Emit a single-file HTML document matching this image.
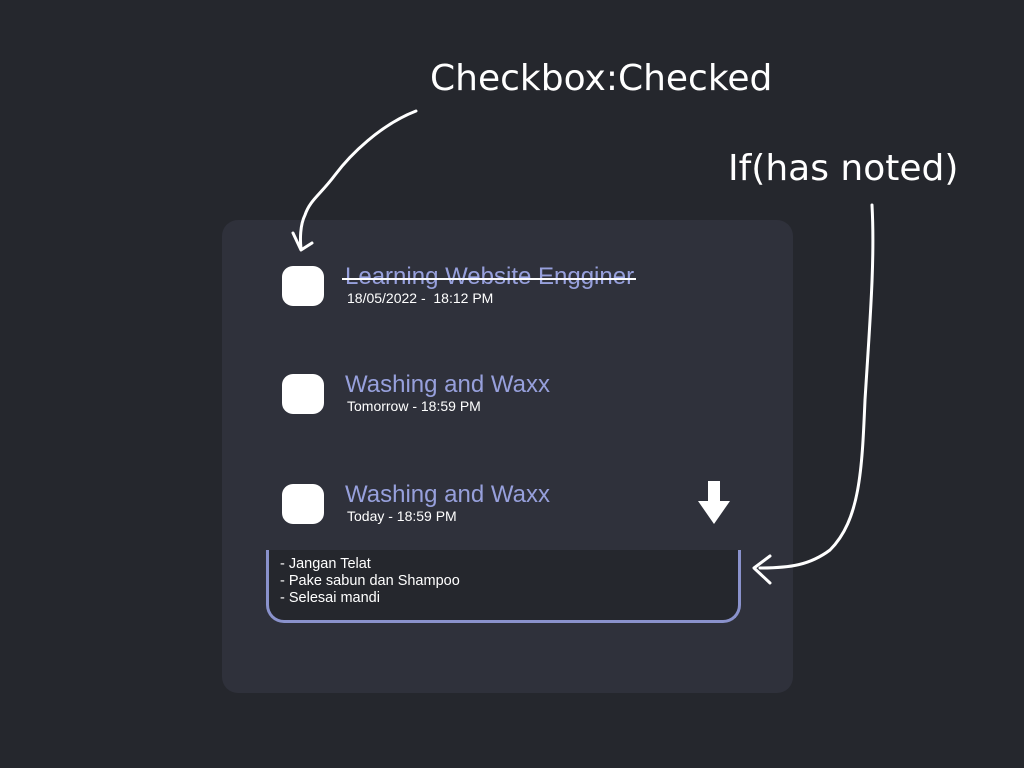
<!DOCTYPE html>
<html><head><meta charset="utf-8"><style>
body{margin:0;width:1024px;height:768px;background:#25272d;position:relative;overflow:hidden;font-family:"Liberation Sans",sans-serif;}
.card{position:absolute;left:222px;top:220px;width:571px;height:473px;background:#2f313b;border-radius:16px;}
.cb{position:absolute;width:42px;height:40px;background:#fff;border-radius:11px;}
.t{position:absolute;color:#97a0dc;font-size:24px;white-space:nowrap;}
.s{position:absolute;color:#fff;font-size:14px;white-space:nowrap;}
.note{position:absolute;left:266px;top:550px;width:458px;height:64px;background:#25272d;border:3px solid #8a92cc;border-top:none;border-radius:0 0 18px 18px;color:#fff;font-size:14.5px;line-height:17px;padding:6px 0 0 11px;}
.hand{position:absolute;color:#fff;font-family:"Comic Sans MS","DejaVu Sans",cursive;white-space:nowrap;}
</style></head><body>
<div class="card"></div>
<div class="cb" style="left:282px;top:266px"></div>
<div class="t" style="left:345px;top:263px">Learning Website Engginer</div>
<div style="position:absolute;left:342px;top:278px;width:294px;height:2px;background:#fff"></div>
<div class="s" style="left:347px;top:290px">18/05/2022 -&nbsp; 18:12 PM</div>
<div class="cb" style="left:282px;top:374px"></div>
<div class="t" style="left:345px;top:371px">Washing and Waxx</div>
<div class="s" style="left:347px;top:398px">Tomorrow - 18:59 PM</div>
<div class="cb" style="left:282px;top:484px"></div>
<div class="t" style="left:345px;top:481px">Washing and Waxx</div>
<div class="s" style="left:347px;top:508px">Today - 18:59 PM</div>
<svg style="position:absolute;left:697px;top:481px" width="34" height="44"><path d="M11 0h12v20h10L17 43 1 20h10z" fill="#fff"/></svg>
<div class="note">- Jangan Telat<br>- Pake sabun dan Shampoo<br>- Selesai mandi</div>
<div class="hand" style="left:430px;top:58px;font-size:36px;">Checkbox:Checked</div>
<div class="hand" style="left:728px;top:148px;font-size:36px;">If(has noted)</div>
<svg style="position:absolute;left:0;top:0" width="1024" height="768" fill="none" stroke="#fff" stroke-width="3" stroke-linecap="round" stroke-linejoin="round">
<path d="M416 111 C380 125 350 155 335 175 C320 195 310 200 305 215 C300 225 300 240 301 248"/>
<path d="M293 233 L301 250 L312 243"/>
<path d="M872 205 C875 260 870 320 865 400 C862 470 860 520 830 550 C810 565 790 568 760 568"/>
<path d="M770 556 L754 568 L770 583"/>
</svg>
</body></html>
